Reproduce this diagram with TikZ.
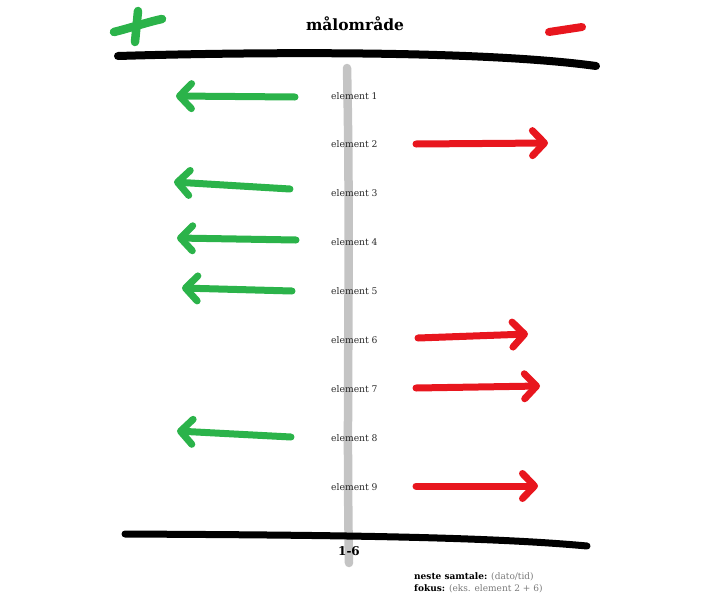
\documentclass[tikz,border=0pt]{standalone}
\usepackage{fontspec}
\setmainfont{DejaVu Serif}
\usetikzlibrary{arrows.meta}
\definecolor{pengreen}{HTML}{2BB34A}
\definecolor{penred}{HTML}{E8161E}
\definecolor{pengray}{HTML}{C4C4C4}
\definecolor{txtgray}{HTML}{7A7A7A}
\definecolor{txtdark}{HTML}{2A2A2A}
\tikzset{
  garrow/.style={draw=pengreen, line width=7pt, line cap=round, -{Straight Barb[length=12pt,width=25pt,round]}},
  rarrow/.style={draw=penred, line width=7pt, line cap=round, -{Straight Barb[length=12pt,width=25pt,round]}},
  marker/.style={line width=8pt, line cap=round, line join=round},
  elabel/.style={anchor=west, inner sep=0pt, text=txtdark, font=\fontsize{9.2}{11}\selectfont},
}
\begin{document}
\begin{tikzpicture}[x=1pt,y=-1pt]
\useasboundingbox (0,0) rectangle (710,600);
% gray axis
\coordinate (gtop) at (347,68);
\coordinate (gbot) at (349,563);
\draw[marker, draw=pengray, line width=8.5pt] (gtop) .. controls (351,250) and (346,400) .. (gbot);
% plus and minus
\coordinate (p1) at (114,32); \coordinate (p2) at (162,19);
\coordinate (p3) at (138,11); \coordinate (p4) at (135,42);
\draw[marker, draw=pengreen, line width=8.5pt] (p1) .. controls (130,28) and (148,22) .. (p2);
\draw[marker, draw=pengreen, line width=8.5pt] (p3) -- (p4);
\coordinate (m1) at (549,32); \coordinate (m2) at (582,27);
\draw[marker, draw=penred, line width=8pt] (m1) -- (m2);
% title
\node[inner sep=0pt, font=\bfseries\fontsize{15.5}{18}\selectfont] (title) at (355,24) {målområde};
% black lines
\coordinate (t1) at (118,56); \coordinate (t2) at (596,66);
\draw[marker, draw=black] (t1) .. controls (250,52) and (480,50) .. (t2);
\coordinate (b1) at (125,534); \coordinate (b2) at (587,546);
\draw[marker, draw=black, line width=7pt] (b1) .. controls (300,535) and (480,536) .. (b2);
% labels
\foreach \i/\y in {1/96,2/144,3/193,4/242,5/291,6/340,7/389,8/438,9/487}{
  \node[elabel] (e\i) at (331,\y) {element \i};
}
% green arrows
\coordinate (g1a) at (295,97);  \coordinate (g1b) at (176,96);
\coordinate (g3a) at (290,189); \coordinate (g3b) at (174,182);
\coordinate (g4a) at (296,240); \coordinate (g4b) at (177,238);
\coordinate (g5a) at (292,291); \coordinate (g5b) at (182,288);
\coordinate (g8a) at (291,437); \coordinate (g8b) at (177,431);
\foreach \n in {1,3,4,5,8}{
  \draw[garrow] (g\n a) -- (g\n b);
}
% red arrows
\coordinate (r2a) at (416,144); \coordinate (r2b) at (548,143);
\coordinate (r6a) at (418,338); \coordinate (r6b) at (528,334);
\coordinate (r7a) at (416,388); \coordinate (r7b) at (540,386);
\coordinate (r9a) at (416,486); \coordinate (r9b) at (538,486);
\foreach \n in {2,6,7,9}{
  \draw[rarrow] (r\n a) -- (r\n b);
}
% bottom labels
\node[inner sep=0pt, font=\bfseries\fontsize{12}{14}\selectfont] (range) at (349,551) {1-6};
\node[anchor=west, inner sep=0pt, font=\fontsize{9}{11}\selectfont] (next) at (414,577) {\textbf{neste samtale:} \textcolor{txtgray}{(dato/tid)}};
\node[anchor=west, inner sep=0pt, font=\fontsize{9}{11}\selectfont] (focus) at (414,589) {\textbf{fokus:} \textcolor{txtgray}{(eks. element 2 + 6)}};
\end{tikzpicture}
\end{document}
